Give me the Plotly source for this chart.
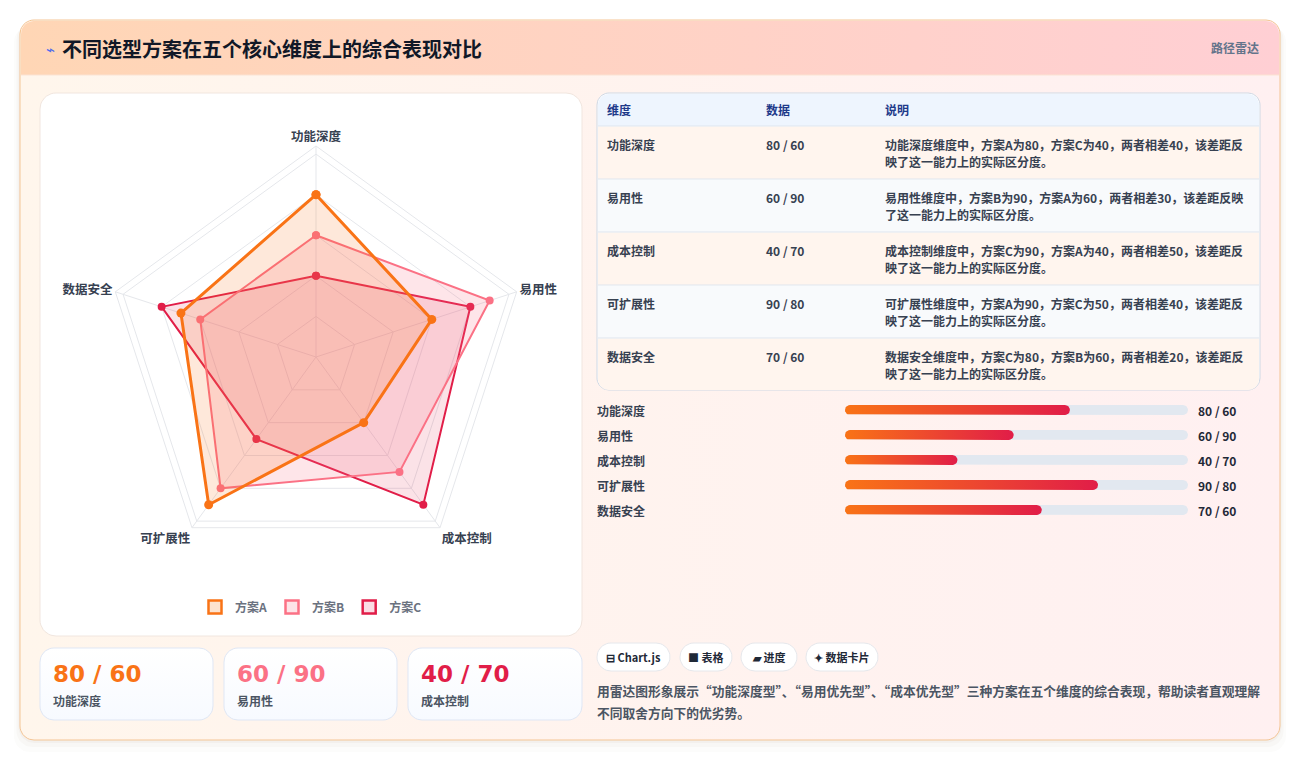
import math
import plotly.graph_objects as go

W, H = 1300, 761

# ---- data ----
dimensions = ["功能深度", "易用性", "成本控制", "可扩展性", "数据安全"]
schemes = ["方案A", "方案B", "方案C"]
scheme_a = [80, 60, 40, 90, 70]
scheme_b = [60, 90, 70, 80, 60]
scheme_c = [40, 80, 90, 50, 80]
bar_max = 122          # progress track covers 0..122
card_count = 3         # stat cards for the first three dimensions
tags = ["⊟ Chart.js", "■ 表格", "▰ 进度", "✦ 数据卡片"]
title = "不同选型方案在五个核心维度上的综合表现对比"
badge = "路径雷达"
summary = ["用雷达图形象展示“功能深度型”、“易用优先型”、“成本优先型”三种方案在五个维度的综合表现，帮助读者直观理解",
           "不同取舍方向下的优劣势。"]

colors = ["#f97316", "#fb7185", "#e11d48"]
fills = ["rgba(249,115,22,0.16)", "rgba(251,113,133,0.18)", "rgba(225,29,72,0.13)"]
legend_fills = ["#fde3cf", "#fde4e8", "#fbdce4"]
FONT = "Noto Sans CJK SC"

fig = go.Figure()


def rr(x0, y0, x1, y1, r, n=10):
    # rounded rectangle polygon (pixel coords, y down); r = (tl, tr, br, bl)
    if not isinstance(r, (list, tuple)):
        r = (r, r, r, r)
    corners = [(x0 + r[0], y0 + r[0], r[0], 180), (x1 - r[1], y0 + r[1], r[1], 270),
               (x1 - r[2], y1 - r[2], r[2], 0), (x0 + r[3], y1 - r[3], r[3], 90)]
    xs, ys = [], []
    for cx, cy, rad, a0 in corners:
        for k in range(n + 1):
            a = math.radians(a0 + 90 * k / n)
            xs.append(cx + rad * math.cos(a))
            ys.append(cy + rad * math.sin(a))
    xs.append(xs[0]); ys.append(ys[0])
    return xs, ys


def panel(box, r, fill, line=None, grad=None, lw=1):
    xs, ys = rr(*box, r)
    kw = dict(x=xs, y=ys, mode="lines", fill="toself", fillcolor=fill,
              line=dict(color=line or "rgba(0,0,0,0)", width=lw if line else 0),
              hoverinfo="skip", showlegend=False, xaxis="x", yaxis="y")
    if grad:
        kw["fillgradient"] = grad
    fig.add_trace(go.Scatter(**kw))


def txt(x, y, s, size=12, color="#374151", bold=True, anchor="left", family=FONT):
    # annotations carry a couple of px padding, pull them back
    dx = {"left": -2, "right": 2, "center": 0}[anchor]
    fig.add_annotation(x=x + dx, y=y, xref="x", yref="y", text=("<b>%s</b>" % s) if bold else s,
                       showarrow=False, xanchor=anchor, yanchor="middle",
                       font=dict(size=size, color=color, family=family))


# ---- background card ----
for off, a in [(12, 0.02), (7, 0.03), (3, 0.04)]:
    panel((20 - off / 2, 20 + off / 2, 1280 + off / 2, 740 + off), 16, "rgba(120,80,60,%s)" % a)
panel((20, 20, 1280, 740), 14, "#fff4ee", line="#f4c595",
      grad=dict(type="horizontal", colorscale=[[0, "#fff6ec"], [1, "#fff0f1"]]))
panel((21, 21, 1279, 75), (13, 13, 0, 0), "#ffd5b6",
      grad=dict(type="horizontal", colorscale=[[0, "#ffd6b5"], [1, "#ffcfd4"]]))
fig.add_trace(go.Scatter(x=[21, 1279], y=[75, 75], mode="lines", line=dict(color="#fbe3d3", width=1),
                         hoverinfo="skip", showlegend=False))

txt(46, 48, "⌁", 15, "#4f6bed", bold=False)
txt(62, 48, title, 20, "#111827")
txt(1259, 47, badge, 12, "#64748b", anchor="right")

# radar card
panel((40, 93, 582, 636), 16, "#ffffff", line="#f1e6df")

# stat cards
card_x = [(40, 213), (224, 397), (408, 582)]
for k in range(card_count):
    x0, x1 = card_x[k]
    panel((x0, 648, x1, 720), 14, "#f8fbff", line="#dfe7f5",
          grad=dict(type="vertical", colorscale=[[0, "#f7faff"], [1, "#ffffff"]]))
    txt(x0 + 13, 674, "%d / %d" % (scheme_a[k], scheme_b[k]), 23, colors[k], family="DejaVu Sans")
    txt(x0 + 13, 700, dimensions[k], 12, "#4b5563")

# ---- table ----
panel((597, 93, 1260, 390), 12, "#ffffff", line="#cfd8e4")
panel((598, 94, 1259, 126), (11, 11, 0, 0), "#eef5fe")
row_h = 53
for i, d in enumerate(dimensions):
    top = 126 + row_h * i
    bot = top + row_h
    bg = "#fff5ee" if i % 2 == 0 else "#f8fafc"
    last = i == len(dimensions) - 1
    panel((598, top + 0.5, 1259, bot - (1 if last else 0)), (0, 0, 11, 11) if last else 0, bg)
    fig.add_trace(go.Scatter(x=[598, 1259], y=[top, top], mode="lines",
                             line=dict(color="#dfe5ee", width=1), hoverinfo="skip", showlegend=False))
txt(607, 109, "维度", 12, "#1e3a8a")
txt(766, 109, "数据", 12, "#1e3a8a")
txt(885, 109, "说明", 12, "#1e3a8a")


def wrap(s, cap=29.8):
    w, out = 0.0, ""
    for ch in s:
        cw = 0.55 if ord(ch) < 128 else 1.0
        if w + cw > cap:
            return out, s[len(out):]
        w += cw
        out += ch
    return out, ""


for i, d in enumerate(dimensions):
    vals = [scheme_a[i], scheme_b[i], scheme_c[i]]
    hi = max(range(3), key=lambda k: vals[k])
    lo = min(range(3), key=lambda k: vals[k])
    desc = "%s维度中，%s为%d，%s为%d，两者相差%d，该差距反映了这一能力上的实际区分度。" % (
        d, schemes[hi], vals[hi], schemes[lo], vals[lo], vals[hi] - vals[lo])
    l1, l2 = wrap(desc)
    top = 126 + row_h * i
    txt(607, top + 18, d, 12, "#374151")
    txt(766, top + 18, "%d / %d" % (scheme_a[i], scheme_b[i]), 12, "#374151")
    txt(885, top + 18, l1, 12, "#374151")
    txt(885, top + 35, l2, 12, "#374151")

# ---- progress bars ----
track_x0, track_x1 = 845, 1188
bar_y0 = 410
bar_step = 25
px_per_x = (track_x1 - track_x0) / bar_max


def pill(v, i, h_px=10, n=12):
    rx = (h_px / 2) / px_per_x
    ry = (h_px / 2) / bar_step
    xs, ys = [], []
    for k in range(n + 1):
        a = math.radians(-90 + 180 * k / n)
        xs.append(v - rx + rx * math.cos(a)); ys.append(i + ry * math.sin(a))
    for k in range(n + 1):
        a = math.radians(90 + 180 * k / n)
        xs.append(rx + rx * math.cos(a)); ys.append(i + ry * math.sin(a))
    xs.append(xs[0]); ys.append(ys[0])
    return xs, ys


for i, d in enumerate(dimensions):
    xs, ys = pill(bar_max, i)
    fig.add_trace(go.Scatter(x=xs, y=ys, xaxis="x2", yaxis="y2", mode="lines", fill="toself",
                             fillcolor="#e2e8f0", line=dict(width=0), hoverinfo="skip", showlegend=False))
    xs, ys = pill(scheme_a[i], i)
    fig.add_trace(go.Scatter(x=xs, y=ys, xaxis="x2", yaxis="y2", mode="lines", fill="toself",
                             fillcolor=colors[0], line=dict(width=0), hoverinfo="skip", showlegend=False,
                             fillgradient=dict(type="horizontal",
                                               colorscale=[[0, "#f97316"], [1, "#e11d48"]])))
    yy = bar_y0 + bar_step * i
    txt(597, yy, d, 12, "#374151")
    txt(1198, yy, "%d / %d" % (scheme_a[i], scheme_b[i]), 12, "#1f2937")

# ---- tags & summary ----
tag_x = [(597, 670), (680, 732), (741, 797), (806, 878)]
for (x0, x1), t in zip(tag_x, tags):
    panel((x0, 643, x1, 671), 14, "#ffffff", line="#e6e8ec")
    txt((x0 + x1) / 2, 657, t, 11, "#1f2937", anchor="center")
txt(597, 690, summary[0], 12.75, "#4b5563")
txt(597, 712, summary[1], 12.75, "#4b5563")

# ---- radar ----
series = [scheme_a, scheme_b, scheme_c]
widths = [3, 2, 2]
msize = [9, 8, 8]
for k in [2, 1, 0]:
    vals = series[k]
    fig.add_trace(go.Scatterpolar(
        r=vals + vals[:1], theta=dimensions + dimensions[:1], name=schemes[k],
        mode="lines+markers", fill="toself", fillcolor=fills[k],
        line=dict(color=colors[k], width=widths[k]),
        marker=dict(color=colors[k], size=msize[k]),
        showlegend=False, hoverinfo="skip"))

# legend entries drawn as boxes like Chart.js
for k in range(3):
    fig.add_trace(go.Scatter(x=[None], y=[None], mode="markers", name=schemes[k],
                             marker=dict(symbol="square", size=13, color=legend_fills[k],
                                         line=dict(color=colors[k], width=2.5)),
                             xaxis="x", yaxis="y"))

cx, cy, rad = 316, 357, 211
fig.update_layout(
    width=W, height=H, margin=dict(l=0, r=0, t=0, b=0),
    paper_bgcolor="#ffffff", plot_bgcolor="rgba(0,0,0,0)",
    font=dict(family=FONT, size=12, color="#374151"),
    xaxis=dict(domain=[0, 1], range=[0, W], visible=False, fixedrange=True),
    yaxis=dict(domain=[0, 1], range=[H, 0], visible=False, fixedrange=True),
    xaxis2=dict(domain=[track_x0 / W, track_x1 / W], range=[0, bar_max], visible=False, fixedrange=True),
    yaxis2=dict(domain=[1 - (bar_y0 + 4.5 * bar_step) / H, 1 - (bar_y0 - 0.5 * bar_step) / H],
                range=[len(dimensions) - 0.5, -0.5], visible=False, fixedrange=True),
    polar=dict(
        domain=dict(x=[(cx - rad) / W, (cx + rad) / W], y=[1 - (cy + rad) / H, 1 - (cy - rad) / H]),
        bgcolor="rgba(0,0,0,0)", gridshape="linear",
        radialaxis=dict(range=[0, 104], tickvals=[20, 40, 60, 80, 100], showticklabels=False,
                        gridcolor="#e5e7eb", showline=False, ticks=""),
        angularaxis=dict(rotation=90, direction="clockwise", gridcolor="#e5e7eb",
                         linecolor="#e5e7eb", showline=True, ticks="",
                         tickfont=dict(size=12.5, color="#374151", family=FONT, weight="bold")),
    ),
    legend=dict(orientation="h", x=311 / W, xanchor="center", y=1 - 607 / H, yanchor="middle",
                bgcolor="rgba(0,0,0,0)", itemwidth=30,
                font=dict(size=12, color="#6b7280", family=FONT, weight="bold")),
)

fig.write_html("out.html", config={"displayModeBar": False},
               post_script="document.body.style.margin='0';")
